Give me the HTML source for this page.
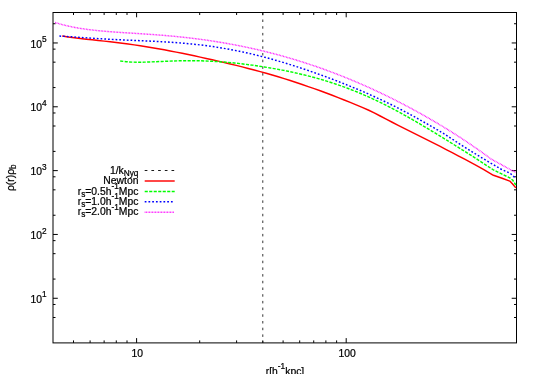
<!DOCTYPE html>
<html><head><meta charset="utf-8"><title>plot</title>
<style>
html,body{margin:0;padding:0;background:#fff;}
body{width:534px;height:374px;overflow:hidden;}
svg{display:block;will-change:transform;}
text{font-family:"Liberation Sans",sans-serif;font-size:10.35px;fill:#000;stroke:#000;stroke-width:0.22px;}
.s{font-size:8.28px;}
</style></head><body>
<svg width="534" height="374" viewBox="0 0 534 374">
<rect width="534" height="374" fill="#fff"/>
<g stroke="#000" stroke-width="1" fill="none">
<rect x="53.0" y="12.5" width="463.5" height="330.4"/>
<path d="M53.0 317.50h2.5M516.5 317.50h-2.5"/>
<path d="M53.0 304.47h2.5M516.5 304.47h-2.5"/>
<path d="M53.0 298.28h4.8M516.5 298.28h-4.8"/>
<path d="M53.0 279.07h2.5M516.5 279.07h-2.5"/>
<path d="M53.0 253.67h2.5M516.5 253.67h-2.5"/>
<path d="M53.0 240.64h2.5M516.5 240.64h-2.5"/>
<path d="M53.0 234.45h4.8M516.5 234.45h-4.8"/>
<path d="M53.0 215.24h2.5M516.5 215.24h-2.5"/>
<path d="M53.0 189.83h2.5M516.5 189.83h-2.5"/>
<path d="M53.0 176.81h2.5M516.5 176.81h-2.5"/>
<path d="M53.0 170.62h4.8M516.5 170.62h-4.8"/>
<path d="M53.0 151.40h2.5M516.5 151.40h-2.5"/>
<path d="M53.0 126.00h2.5M516.5 126.00h-2.5"/>
<path d="M53.0 112.97h2.5M516.5 112.97h-2.5"/>
<path d="M53.0 106.79h4.8M516.5 106.79h-4.8"/>
<path d="M53.0 87.57h2.5M516.5 87.57h-2.5"/>
<path d="M53.0 62.17h2.5M516.5 62.17h-2.5"/>
<path d="M53.0 49.14h2.5M516.5 49.14h-2.5"/>
<path d="M53.0 42.96h4.8M516.5 42.96h-4.8"/>
<path d="M53.0 23.74h2.5M516.5 23.74h-2.5"/>
<path d="M73.50 342.9v-2.5M73.50 12.5v2.5"/>
<path d="M90.10 342.9v-2.5M90.10 12.5v2.5"/>
<path d="M104.13 342.9v-2.5M104.13 12.5v2.5"/>
<path d="M116.29 342.9v-2.5M116.29 12.5v2.5"/>
<path d="M127.01 342.9v-2.5M127.01 12.5v2.5"/>
<path d="M136.60 342.9v-4.8M136.60 12.5v4.8"/>
<path d="M199.70 342.9v-2.5M199.70 12.5v2.5"/>
<path d="M236.60 342.9v-2.5M236.60 12.5v2.5"/>
<path d="M262.79 342.9v-2.5M262.79 12.5v2.5"/>
<path d="M283.10 342.9v-2.5M283.10 12.5v2.5"/>
<path d="M299.70 342.9v-2.5M299.70 12.5v2.5"/>
<path d="M313.73 342.9v-2.5M313.73 12.5v2.5"/>
<path d="M325.89 342.9v-2.5M325.89 12.5v2.5"/>
<path d="M336.61 342.9v-2.5M336.61 12.5v2.5"/>
<path d="M346.20 342.9v-4.8M346.20 12.5v4.8"/>
</g>
<path d="M262.79 342.9V12.5" stroke="#111" stroke-width="0.85" stroke-dasharray="2.5 4.2" stroke-dashoffset="0.7" fill="none"/>
<polyline points="62.2,35.95 68.2,36.94 74.2,37.78 80.2,38.52 86.2,39.20 92.2,39.84 98.2,40.47 104.2,41.11 110.2,41.78 116.2,42.48 122.2,43.23 128.2,44.02 134.2,44.86 140.2,45.76 146.2,46.71 152.2,47.70 158.2,48.75 164.2,49.83 170.2,50.96 176.2,52.12 182.2,53.32 188.2,54.55 194.2,55.81 200.2,57.10 206.2,58.42 212.2,59.76 218.2,61.13 224.2,62.53 230.2,63.96 236.2,65.42 242.2,66.91 248.2,68.44 254.2,70.01 260.2,71.62 266.2,73.28 272.2,74.99 278.2,76.76 284.2,78.59 290.2,80.48 296.2,82.44 302.2,84.47 308.2,86.57 314.2,88.66 320.2,90.79 326.2,93.00 332.2,95.28 338.2,97.63 344.2,100.02 350.2,102.45 356.2,104.94 362.2,107.43 368.2,109.99 374.2,112.95 380.2,115.99 386.2,119.12 392.2,122.24 398.2,125.31 404.2,128.40 410.2,131.42 416.2,134.42 422.2,137.42 428.2,140.42 434.2,143.41 440.2,146.41 446.2,149.53 452.2,152.67 458.2,155.83 464.2,158.94 470.2,162.08 476.2,165.30 483.4,169.36 493.4,175.30 502.1,178.20 509.8,181.09 512.8,184.30 515.8,187.90" fill="none" stroke="#ff0000" stroke-width="1.45" stroke-linejoin="round"/>
<polyline points="120.2,60.99 126.2,61.73 132.2,62.11 138.2,62.22 144.2,62.15 150.2,61.96 156.2,61.71 162.2,61.44 168.2,61.18 174.2,60.95 180.2,60.79 186.2,60.70 192.2,60.69 198.2,60.76 204.2,60.92 210.2,61.17 216.2,61.50 222.2,61.92 228.2,62.42 234.2,62.99 240.2,63.64 246.2,64.36 252.2,65.15 258.2,66.00 264.2,66.93 270.2,67.92 276.2,68.97 282.2,70.10 288.2,71.31 294.2,72.59 300.2,73.96 306.2,75.41 312.2,76.96 318.2,78.61 324.2,80.36 330.2,82.21 336.2,84.19 342.2,86.28 348.2,88.49 354.2,90.82 360.2,93.28 366.2,95.87 372.2,98.57 378.2,101.40 384.2,104.35 390.2,107.40 396.2,110.57 402.2,113.82 408.2,117.17 414.2,120.60 420.2,124.10 426.2,127.65 432.2,131.26 438.2,134.90 444.2,138.58 450.2,142.28 456.2,146.01 462.2,149.77 468.2,153.55 474.2,157.38 480.2,161.26 483.4,163.37 493.4,169.90 502.1,174.20 509.8,177.80 512.8,180.30 515.8,185.00" fill="none" stroke="#00ff00" stroke-width="1.45" stroke-dasharray="3.1 1.4" />
<polyline points="59.4,36.09 65.4,36.42 71.4,36.80 77.4,37.21 83.4,37.63 89.4,38.04 95.4,38.43 101.4,38.80 107.4,39.15 113.4,39.47 119.4,39.76 125.4,40.04 131.4,40.30 137.4,40.56 143.4,40.82 149.4,41.09 155.4,41.37 161.4,41.69 167.4,42.04 173.4,42.44 179.4,42.88 185.4,43.39 191.4,43.96 197.4,44.59 203.4,45.31 209.4,46.10 215.4,46.97 221.4,47.92 227.4,48.95 233.4,50.07 239.4,51.28 245.4,52.57 251.4,53.94 257.4,55.39 263.4,56.91 269.4,58.51 275.4,60.19 281.4,61.93 287.4,63.74 293.4,65.62 299.4,67.55 305.4,69.55 311.4,71.60 317.4,73.71 323.4,75.88 329.4,78.10 335.4,80.38 341.4,82.71 347.4,85.11 353.4,87.56 359.4,90.07 365.4,92.66 371.4,95.31 377.4,98.04 383.4,100.84 389.4,103.73 395.4,106.70 401.4,109.77 407.4,112.92 413.4,116.18 419.4,119.53 425.4,122.96 431.4,126.34 437.4,129.81 443.4,133.47 449.4,137.30 455.4,141.17 461.4,145.08 467.4,148.91 473.4,152.57 479.4,156.31 485.4,159.98 491.5,163.54 500.8,169.00 510.2,173.26 515.8,178.64" fill="none" stroke="#0000ff" stroke-width="1.45" stroke-dasharray="1.75 2.0"/>
<polyline points="55.2,22.55 61.2,24.34 67.2,25.86 73.2,27.14 79.2,28.22 85.2,29.13 91.2,29.90 97.2,30.56 103.2,31.13 109.2,31.62 115.2,32.07 121.2,32.48 127.2,32.87 133.2,33.25 139.2,33.63 145.2,34.03 151.2,34.44 157.2,34.89 163.2,35.36 169.2,35.88 175.2,36.43 181.2,37.04 187.2,37.69 193.2,38.40 199.2,39.16 205.2,39.97 211.2,40.85 217.2,41.78 223.2,42.78 229.2,43.84 235.2,44.96 241.2,46.14 247.2,47.39 253.2,48.70 259.2,50.08 265.2,51.53 271.2,53.04 277.2,54.62 283.2,56.26 289.2,57.98 295.2,59.76 301.2,61.62 307.2,63.54 313.2,65.54 319.2,67.60 325.2,69.74 331.2,71.95 337.2,74.24 343.2,76.59 349.2,79.02 355.2,81.52 361.2,84.10 367.2,86.75 373.2,89.47 379.2,92.27 385.2,95.14 391.2,98.09 397.2,101.11 403.2,104.21 409.2,107.38 415.2,110.62 421.2,113.94 427.2,117.34 433.2,120.82 439.2,124.38 445.2,128.02 451.2,131.74 457.2,135.55 463.2,139.46 469.2,143.46 475.2,147.57 481.2,151.78 487.2,156.11 491.5,159.29 502.7,165.36 510.2,169.56 515.8,172.38" fill="none" stroke="#ff00ff" stroke-width="1.45" stroke-dasharray="0.75 0.75"/>
<path d="M144.7 170.5H174.7" stroke="#000" stroke-width="0.9" stroke-dasharray="2.7 4" fill="none"/>
<path d="M144.7 181.0H174.7" stroke="#ff0000" stroke-width="1.45" fill="none"/>
<path d="M144.7 191.4H174.7" stroke="#00ff00" stroke-width="1.45" stroke-dasharray="3.1 1.4" fill="none"/>
<path d="M144.7 201.8H174.7" stroke="#0000ff" stroke-width="1.45" stroke-dasharray="1.75 2.0" fill="none"/>
<path d="M144.7 212.2H174.7" stroke="#ff00ff" stroke-width="1.45" stroke-dasharray="0.75 0.75" fill="none"/>
<text x="138.4" y="173.7" text-anchor="end">1/k<tspan class="s" dy="2.0">Nyq</tspan><tspan dy="-2.0"></tspan></text>
<text x="138.4" y="184.2" text-anchor="end">Newton</text>
<text x="138.4" y="194.6" text-anchor="end">r<tspan class="s" dy="2.0">s</tspan><tspan dy="-2.0">=0.5h</tspan><tspan class="s" dy="-5.6">-1</tspan><tspan dy="5.6">Mpc</tspan></text>
<text x="138.4" y="205.0" text-anchor="end">r<tspan class="s" dy="2.0">s</tspan><tspan dy="-2.0">=1.0h</tspan><tspan class="s" dy="-5.6">-1</tspan><tspan dy="5.6">Mpc</tspan></text>
<text x="138.4" y="215.39999999999998" text-anchor="end">r<tspan class="s" dy="2.0">s</tspan><tspan dy="-2.0">=2.0h</tspan><tspan class="s" dy="-5.6">-1</tspan><tspan dy="5.6">Mpc</tspan></text>
<text x="46.5" y="302.98" text-anchor="end">10<tspan class="s" dy="-5.6">1</tspan></text>
<text x="46.5" y="239.15" text-anchor="end">10<tspan class="s" dy="-5.6">2</tspan></text>
<text x="46.5" y="175.32" text-anchor="end">10<tspan class="s" dy="-5.6">3</tspan></text>
<text x="46.5" y="111.49" text-anchor="end">10<tspan class="s" dy="-5.6">4</tspan></text>
<text x="46.5" y="47.66" text-anchor="end">10<tspan class="s" dy="-5.6">5</tspan></text>
<text x="137.20" y="357" text-anchor="middle">10</text>
<text x="347.20" y="357" text-anchor="middle">100</text>
<text x="285" y="374.7" text-anchor="middle">r[h<tspan class="s" dy="-5.6">-1</tspan><tspan dy="5.6">kpc]</tspan></text>
<text transform="translate(14.1 177.7) rotate(-90)" text-anchor="middle">ρ(r)ρ<tspan class="s" dy="2.0">b</tspan><tspan dy="-2.0"></tspan></text>
</svg></body></html>
